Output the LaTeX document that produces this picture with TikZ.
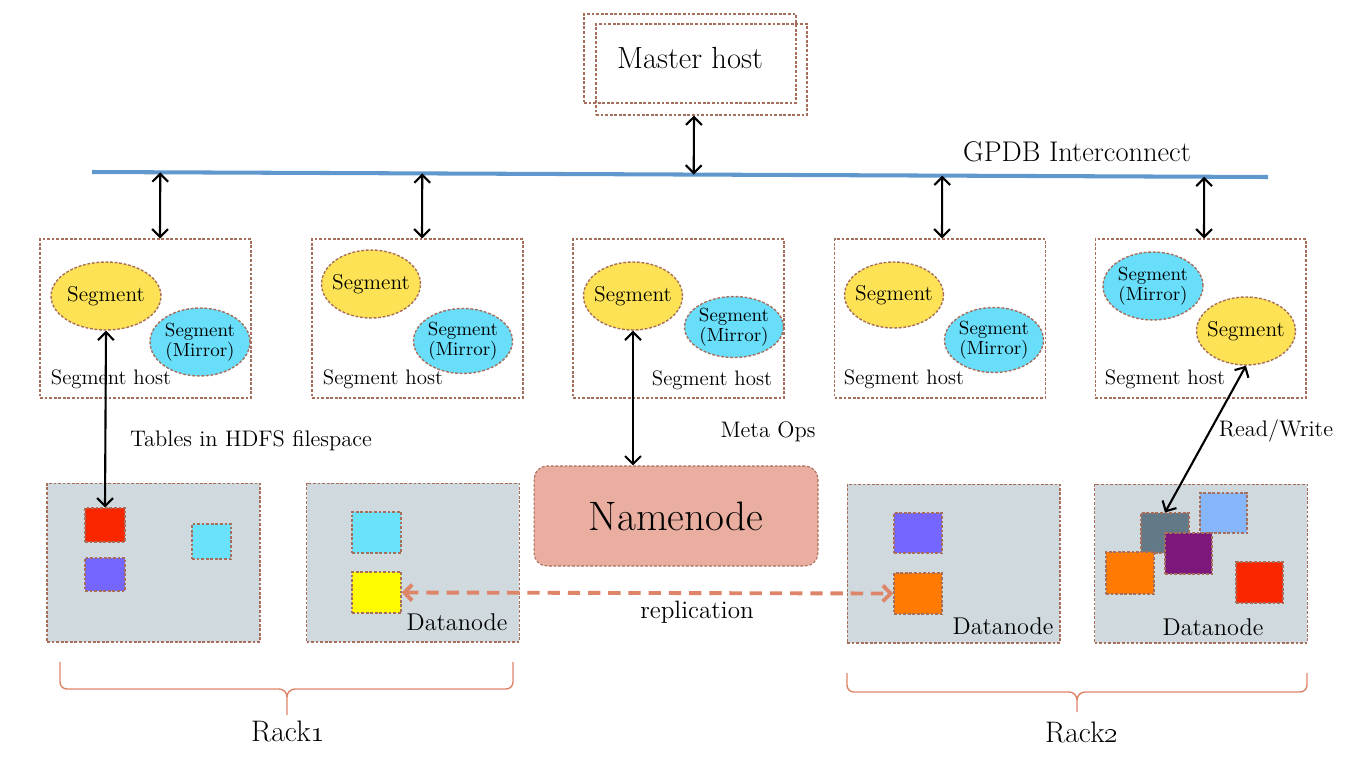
\documentclass[tikz,border=0pt]{standalone}
\usetikzlibrary{shapes.geometric,arrows.meta,calc}

\definecolor{dashbrown}{RGB}{168,110,92}
\definecolor{segyellow}{RGB}{252,226,84}
\definecolor{mircyan}{RGB}{104,222,250}
\definecolor{dngray}{RGB}{207,217,222}
\definecolor{nnsalmon}{RGB}{233,174,160}
\definecolor{iclblue}{RGB}{96,152,206}
\definecolor{replsalmon}{RGB}{222,132,104}
\definecolor{blkred}{RGB}{250,38,0}
\definecolor{blkpurple}{RGB}{116,102,255}
\definecolor{blkcyan}{RGB}{106,226,252}
\definecolor{blkyellow}{RGB}{255,252,0}
\definecolor{blkorange}{RGB}{255,122,0}
\definecolor{blkslate}{RGB}{98,122,136}
\definecolor{blklight}{RGB}{136,182,250}
\definecolor{blkplum}{RGB}{124,24,124}

\tikzset{
  dashed border/.style={draw=dashbrown, dash pattern=on 1.6pt off 1pt, line width=0.6pt},
  hostbox/.style={dashed border, minimum width=4.22cm, minimum height=3.18cm, inner sep=0pt},
  seg/.style={ellipse, dashed border, line width=0.8pt, fill=segyellow, minimum width=1.98cm, minimum height=1.36cm,
    inner xsep=-9pt, inner ysep=0pt, font=\fontsize{12.2}{13}\selectfont},
  mirror/.style={ellipse, dashed border, line width=0.8pt, fill=mircyan, minimum width=1.98cm, minimum height=1.3cm,
    inner xsep=-8pt, inner ysep=-3pt, align=center, font=\fontsize{10.8}{11.3}\selectfont},
  hostlbl/.style={font=\fontsize{11.9}{13}\selectfont},
  dnbox/.style={dashed border, fill=dngray, minimum width=4.26cm, minimum height=3.18cm, inner sep=0pt},
  dnlbl/.style={font=\fontsize{13.8}{15}\selectfont},
  blk/.style={dashed border, inner sep=0pt},
  nnbox/.style={dashed border, fill=nnsalmon, rounded corners=0.26cm, minimum width=5.68cm,
    minimum height=2cm, font=\fontsize{23.4}{26}\selectfont},
  lbl/.style={font=\fontsize{12.8}{14}\selectfont},
  dbl/.style={<->, line width=1.2pt},
  repl/.style={<->, replsalmon, line width=2.2pt, dash pattern=on 7pt off 4.5pt},
  icline/.style={iclblue, line width=2.3pt},
  rackbrace/.style={replsalmon, line width=0.8pt},
  racklbl/.style={font=\fontsize{16.9}{19}\selectfont}
}

\begin{document}
\begin{tikzpicture}[x=0.02cm, y=-0.02cm, >={Straight Barb[length=4.5pt,width=9pt]}]
    \useasboundingbox (0,0) rectangle (1370,772);

    % master host
    \node[hostbox, minimum width=4.22cm, minimum height=1.82cm] (mback) at (701.5,69.5) {};
    \node[hostbox, minimum width=4.24cm, minimum height=1.78cm, font=\fontsize{17.4}{20}\selectfont] (master) at (690,58.5) {Master host};

    % interconnect
    \coordinate (icL) at (92,172);
    \coordinate (icR) at (1268,177);
    \draw[icline] (icL) -- (icR);
    \node[font=\fontsize{16.2}{18}\selectfont] (icname) at (1077,152) {GPDB Interconnect};
    \coordinate (ma) at ($(mback.south)+(-7.5,0)$);
    \draw[dbl] (ma) -- ($(icL)!(ma)!(icR)$);

    % segment hosts
    \foreach \n/\x in {1/145.5, 2/417.5, 3/678.5, 4/940, 5/1200.5} {
        \node[hostbox] (h\n) at (\x,318.5) {};
    }
    \foreach \n/\d in {1/14.5, 2/4.5, 4/2, 5/3.5} {
        \coordinate (a\n) at ($(h\n.north)+(\d,0)$);
        \draw[dbl] ($(icL)!(a\n)!(icR)$) -- (a\n);
    }

    \node[seg, minimum width=2.2cm] (s1) at (106,296) {Segment};
    \node[mirror, minimum width=2cm, minimum height=1.36cm] (m1) at (200,342) {Segment\\(Mirror)};
    \node[hostlbl] (l1) at (111,379) {Segment host};

    \node[seg] (s2) at (371,284) {Segment};
    \node[mirror] (m2) at (463,341) {Segment\\(Mirror)};
    \node[hostlbl] (l2) at (383,379) {Segment host};

    \node[seg] (s3) at (633,296) {Segment};
    \node[mirror, minimum height=1.22cm] (m3) at (734,327) {Segment\\(Mirror)};
    \node[hostlbl] (l3) at (712,380) {Segment host};

    \node[seg, minimum height=1.32cm] (s4) at (894,295) {Segment};
    \node[mirror] (m4) at (994,340) {Segment\\(Mirror)};
    \node[hostlbl] (l4) at (904,379) {Segment host};

    \node[mirror, minimum width=2cm, minimum height=1.36cm] (m5) at (1153,286) {Segment\\(Mirror)};
    \node[seg] (s5) at (1246,331) {Segment};
    \node[hostlbl] (l5) at (1165,379) {Segment host};

    % datanodes
    \node[dnbox] (d1) at (153.5,562.5) {};
    \node[dnbox] (d2) at (413,562.5) {};
    \node[dnbox] (d3) at (953.5,563.5) {};
    \node[dnbox] (d4) at (1201,563.5) {};
    \node[dnlbl] (dl2) at (457,622) {Datanode};
    \node[dnlbl] (dl3) at (1003,626) {Datanode};
    \node[dnlbl] (dl4) at (1213,627) {Datanode};

    % blocks
    \node[blk, fill=blkred, minimum width=0.8cm, minimum height=0.68cm] (r1) at (105,525) {};
    \node[blk, fill=blkpurple, minimum width=0.8cm, minimum height=0.66cm] (p1) at (105,574.5) {};
    \node[blk, fill=blkcyan, minimum width=0.78cm, minimum height=0.7cm] (c1) at (211.5,541.5) {};
    \node[blk, fill=blkcyan, minimum width=0.98cm, minimum height=0.82cm] (c2) at (376.5,532.5) {};
    \node[blk, fill=blkyellow, minimum width=0.98cm, minimum height=0.82cm] (y2) at (376.5,592.5) {};
    \node[blk, fill=blkpurple, minimum width=0.96cm, minimum height=0.8cm] (p3) at (918,533) {};
    \node[blk, fill=blkorange, minimum width=0.96cm, minimum height=0.82cm] (o3) at (918,593.5) {};
    \node[blk, fill=blkslate, minimum width=0.96cm, minimum height=0.8cm] (g4) at (1165,533) {};
    \node[blk, fill=blklight, minimum width=0.94cm, minimum height=0.8cm] (b4) at (1223.5,513) {};
    \node[blk, fill=blkorange, minimum width=0.96cm, minimum height=0.84cm] (o4) at (1130,573) {};
    \node[blk, fill=blkplum, minimum width=0.94cm, minimum height=0.82cm] (q4) at (1188.5,553.5) {};
    \node[blk, fill=blkred, minimum width=0.94cm, minimum height=0.82cm] (r4) at (1259.5,582.5) {};

    % namenode
    \node[nnbox] (nn) at (676,516) {Namenode};

    % connectors
    \draw[dbl] (s1.south) -- (r1.north);
    \draw[dbl] (s3.south) -- (s3.south |- nn.north);
    \draw[dbl] (s5.south) -- (g4.north);
    \draw[repl] (y2.east) -- (o3.west);

    \node[lbl] (tables) at (251,441) {Tables in HDFS filespace};
    \node[lbl] (meta) at (768,432) {Meta Ops};
    \node[lbl] (rw) at (1276,431) {Read/Write};
    \node[font=\fontsize{14.3}{16}\selectfont] (replname) at (697,612) {replication};

    % racks
    \draw[rackbrace] (60,662) -- (60,682) to[out=-90,in=180] (67,689) -- (279,689)
        to[out=0,in=90] (287,697) -- (287,715);
    \draw[rackbrace] (513,662) -- (513,682) to[out=-90,in=0] (506,689) -- (295,689)
        to[out=180,in=90] (287,697);
    \node[racklbl] (rack1) at (288,731) {Rack\oldstylenums{1}};

    \draw[rackbrace] (847,673) -- (847,685) to[out=-90,in=180] (854,692) -- (1069,692)
        to[out=0,in=90] (1077,700) -- (1077,712);
    \draw[rackbrace] (1307,673) -- (1307,685) to[out=-90,in=0] (1300,692) -- (1085,692)
        to[out=180,in=90] (1077,700);
    \node[racklbl] (rack2) at (1082,732) {Rack\oldstylenums{2}};
\end{tikzpicture}
\end{document}
